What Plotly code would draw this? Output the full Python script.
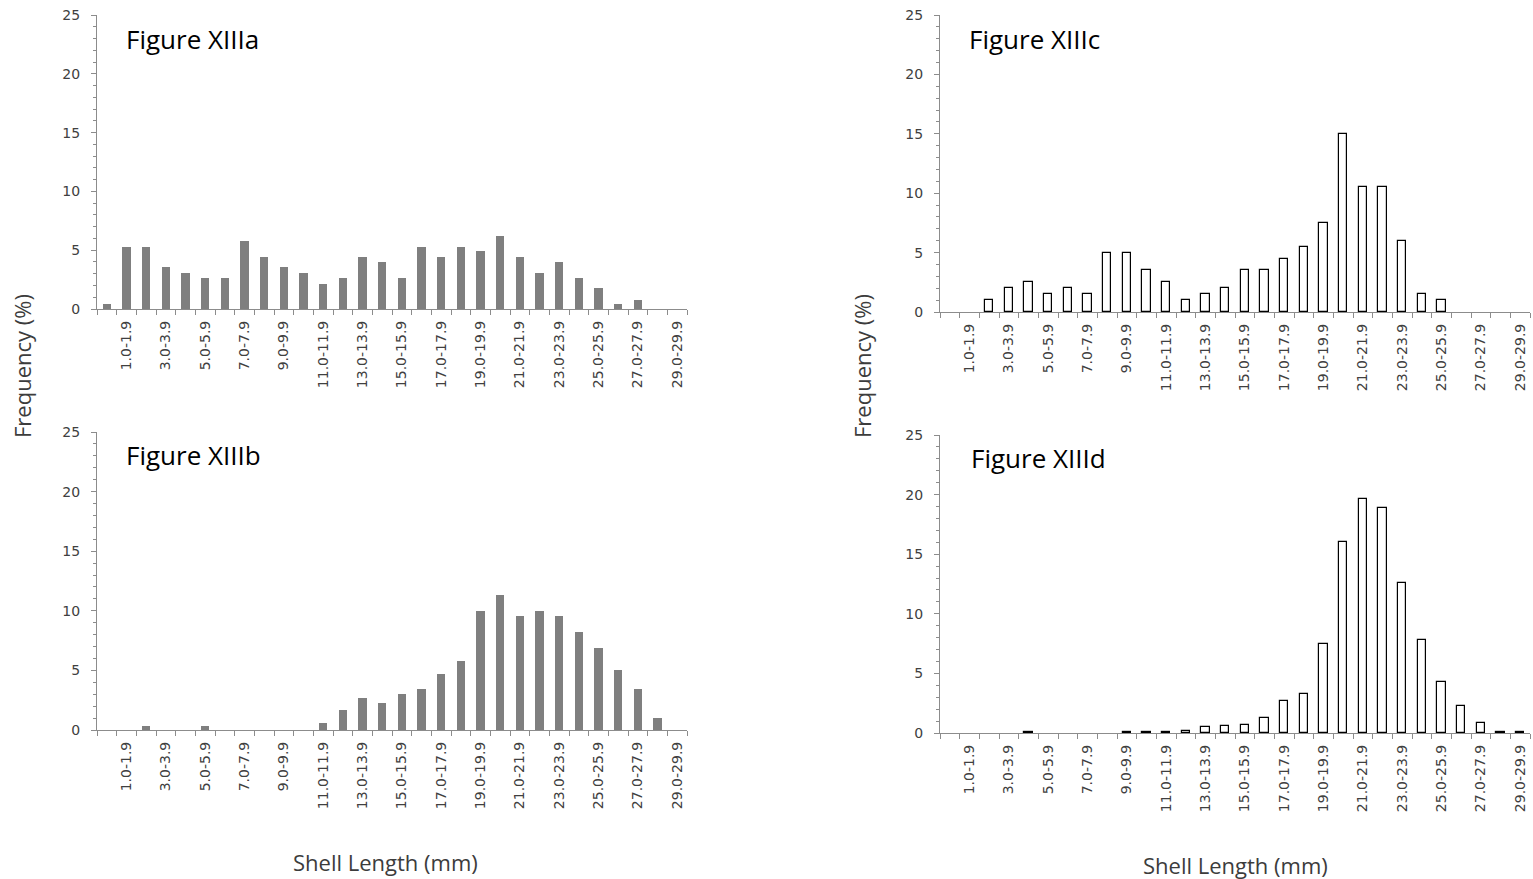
import plotly.graph_objects as go

# Shell-length size classes (mm), 1 mm bins
bins = [f"{i}.0-{i}.9" for i in range(30)]
bin_index = list(range(len(bins)))

# Frequency (%) per size class for each sample
freq_a = [0.4, 5.3, 5.3, 3.6, 3.1, 2.6, 2.6, 5.8, 4.4, 3.6,
          3.1, 2.1, 2.6, 4.4, 4.0, 2.6, 5.3, 4.4, 5.3, 4.9,
          6.2, 4.4, 3.1, 4.0, 2.6, 1.8, 0.4, 0.8, 0.0, 0.0]
freq_b = [0.0, 0.0, 0.3, 0.0, 0.0, 0.3, 0.0, 0.0, 0.0, 0.0,
          0.0, 0.6, 1.7, 2.7, 2.3, 3.0, 3.4, 4.7, 5.8, 10.0,
          11.3, 9.6, 10.0, 9.6, 8.2, 6.9, 5.0, 3.4, 1.0, 0.0]
freq_c = [0.0, 0.0, 1.0, 2.0, 2.5, 1.5, 2.0, 1.5, 5.0, 5.0,
          3.5, 2.5, 1.0, 1.5, 2.0, 3.5, 3.5, 4.5, 5.5, 7.5,
          15.0, 10.5, 10.5, 6.0, 1.5, 1.0, 0.0, 0.0, 0.0, 0.0]
freq_d = [0.0, 0.0, 0.0, 0.0, 0.1, 0.0, 0.0, 0.0, 0.0, 0.1,
          0.1, 0.1, 0.2, 0.5, 0.6, 0.7, 1.3, 2.7, 3.3, 7.5,
          16.0, 19.6, 18.9, 12.6, 7.8, 4.3, 2.3, 0.8, 0.1, 0.1]

panel_titles = ["Figure XIIIa", "Figure XIIIb", "Figure XIIIc", "Figure XIIId"]
y_ticks = [0, 5, 10, 15, 20, 25]
y_title = "Frequency (%)"
x_title = "Shell Length (mm)"

W, H = 1533, 879

def px_x(x):
    return x / W

def px_y(y):
    return 1 - y / H

# panel frames in pixels: (left, right, top of 25, bottom at 0)
frames = [
    (97, 687, 15, 309),
    (97, 687, 432, 730),
    (940, 1530, 15, 312),
    (940, 1530, 435, 733),
]
series = [freq_a, freq_b, freq_c, freq_d]
filled = [True, True, False, False]

axis_col = "#8c8c8c"
tick_font = dict(family="DejaVu Sans", size=14, color="#404040")
label_font = dict(family="Open Sans", size=22, color="#3c3c3c")

fig = go.Figure()
layout = {}
odd_idx = [i for i in bin_index if i % 2 == 1]

for k, (vals, (l, r, t, b), solid) in enumerate(zip(series, frames, filled)):
    n = "" if k == 0 else str(k + 1)
    if solid:
        marker = dict(color="#7f7f7f", line=dict(width=0))
        width = 0.42
    else:
        marker = dict(color="white", line=dict(color="black", width=1.2))
        width = 0.44
    # empty size classes get no bar at all
    shown = [v if v > 0 else None for v in vals]
    fig.add_trace(go.Bar(x=bin_index, y=shown, width=width, marker=marker,
                         xaxis="x" + n, yaxis="y" + n, showlegend=False))
    layout["xaxis" + n] = dict(
        domain=[px_x(l), px_x(r)], anchor="y" + n, range=[-0.5, 29.5],
        tickmode="array", tickvals=odd_idx, ticktext=[bins[i] for i in odd_idx],
        tickangle=-90, ticks="", ticklabelstandoff=5, tickfont=tick_font,
        showline=True, linecolor=axis_col, linewidth=1.3, automargin=False,
        minor=dict(tickmode="linear", tick0=-0.5, dtick=1, ticks="outside",
                   ticklen=5, tickcolor=axis_col, tickwidth=1.2),
        showgrid=False, zeroline=False, fixedrange=True,
    )
    layout["yaxis" + n] = dict(
        domain=[px_y(b), px_y(t)], anchor="x" + n, range=[0, 25],
        tickmode="array", tickvals=y_ticks, ticks="outside", ticklen=5,
        tickcolor=axis_col, tickwidth=1.2, tickfont=tick_font, ticklabelstandoff=8,
        showline=True, linecolor=axis_col, linewidth=1.3, automargin=False,
        minor=dict(tickmode="linear", tick0=0, dtick=1, ticks="outside",
                   ticklen=3, tickcolor=axis_col, tickwidth=1),
        showgrid=False, zeroline=False, fixedrange=True,
    )

annotations = []
title_pos = [(124, 39), (124, 455), (967, 39), (969, 458)]
for text, (x, y) in zip(panel_titles, title_pos):
    annotations.append(dict(text=text, x=px_x(x), y=px_y(y), xref="paper", yref="paper",
                            xanchor="left", yanchor="middle", showarrow=False,
                            font=dict(family="Open Sans", size=26, color="black")))
for x, y in [(22, 366), (862, 366)]:
    annotations.append(dict(text=y_title, x=px_x(x), y=px_y(y), xref="paper", yref="paper",
                            xanchor="center", yanchor="middle", textangle=-90,
                            showarrow=False, font=label_font))
for x, y in [(385, 862), (1235, 865)]:
    annotations.append(dict(text=x_title, x=px_x(x), y=px_y(y), xref="paper", yref="paper",
                            xanchor="center", yanchor="middle", showarrow=False,
                            font=label_font))

fig.update_layout(
    width=W, height=H, margin=dict(l=0, r=0, t=0, b=0, autoexpand=False),
    paper_bgcolor="white", plot_bgcolor="white",
    annotations=annotations, bargap=0, **layout,
)

fig.write_html("out.html", config={"displayModeBar": False})
